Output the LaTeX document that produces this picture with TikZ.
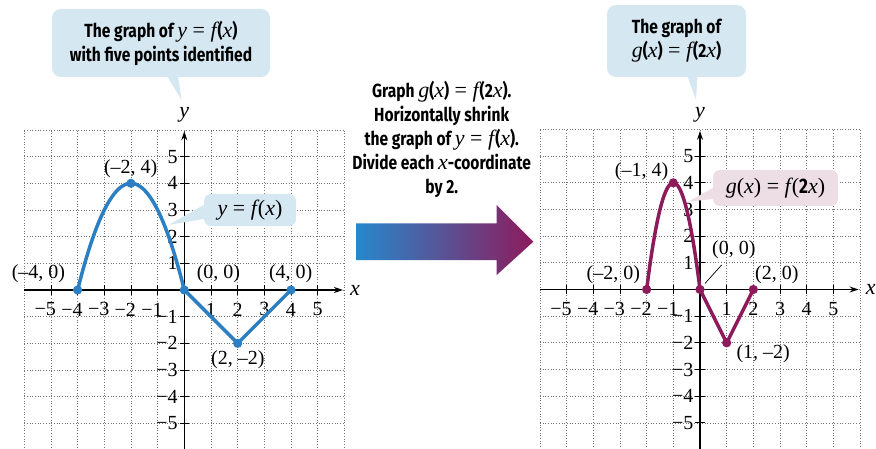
\documentclass[tikz,border=0pt]{standalone}
\usepackage{fontspec}
\setmainfont{Liberation Serif}
\newfontfamily\calfont[FakeStretch=0.82]{Fira Sans}
\usetikzlibrary{arrows.meta}
\definecolor{fblue}{RGB}{43,127,194}
\definecolor{gmag}{RGB}{141,27,92}
\definecolor{boxblue}{RGB}{213,231,241}
\definecolor{boxpink}{RGB}{236,222,228}
\definecolor{arrblue}{RGB}{38,136,204}
\definecolor{arrmag}{RGB}{141,27,92}
\newcommand\vv[1]{{\rmfamily\mdseries\itshape\fontsize{22}{22}\selectfont #1}}
\newcommand\veq{{\rmfamily\mdseries\upshape\fontsize{22}{22}\selectfont\ =\ }}
\newcommand\vp[1]{{\rmfamily\mdseries\upshape\fontsize{22}{22}\selectfont #1}}
\newcommand\planeframe[1]{%
  \foreach \k in {-6,...,6} {
    \draw[gridline] (\k,-6) -- (\k,6);
    \draw[gridline] (-6,\k) -- (6,\k);
  }
  \draw[axisline] (-6,0) -- (5.95,0);
  \draw[axisline] (0,-6) -- (0,5.95);
  \foreach \k in {1,...,5} {
    \draw[ticklinestyle] (\k,-0.18) -- (\k,0.18);
    \draw[ticklinestyle] (-\k,-0.18) -- (-\k,0.18);
    \draw[ticklinestyle] (-0.18,\k) -- (0.18,\k);
    \draw[ticklinestyle] (-0.18,-\k) -- (0.18,-\k);
    \node[ticklbl] (#1xp\k) at (\k,-0.73) {\k};
    \node[ticklbl] (#1xm\k) at (-\k,-0.73) {\llap{−}\k};
    \node[ticklbl, anchor=east] (#1yp\k) at (-0.24,\k) {\k};
    \node[ticklbl, anchor=east] (#1ym\k) at (-0.24,-\k) {−\k};
  }
  \node[axlbl] (#1xl) at (6.4,0) {x};
  \node[axlbl] (#1yl) at (0,6.56) {y};
}
\begin{document}
\begin{tikzpicture}[x=1pt,y=1pt,
  gridline/.style={black!55, dotted, line width=0.7pt},
  axisline/.style={black, line width=1.1pt, -{Stealth[length=9pt,width=6pt]}},
  ticklinestyle/.style={black, line width=0.9pt},
  ticklbl/.style={font=\fontsize{20}{20}\selectfont, inner sep=0pt},
  axlbl/.style={font=\fontsize{22}{22}\selectfont\itshape, inner sep=0pt},
  ptlbl/.style={font=\fontsize{20}{20}\selectfont, inner sep=0pt},
  calltext/.style={font=\calfont\bfseries\fontsize{19}{24}\selectfont, align=center, inner sep=0pt},
  fcurve/.style={fblue, line width=3.5pt, line join=round},
  gcurve/.style={gmag, line width=3.5pt, line join=round},
]
\useasboundingbox (0,0) rectangle (876,448);

% ---------- left plane ----------
\begin{scope}[shift={(184.3pt,158pt)}, x=26.67pt, y=26.67pt]
  \planeframe{L}
  \draw[fcurve] plot[domain=-4:0, samples=60, smooth] (\x,{-\x*\x-4*\x}) -- (2,-2) -- (4,0);
  \foreach \p/\q [count=\i] in {-4/0,-2/4,0/0,2/-2,4/0}
    \fill[fblue] (\p,\q) circle (4.6pt) coordinate (Ld\i);
  \node[ptlbl] (Lp1) at (-5.47,0.63) {(–4, 0)};
  \node[ptlbl] (Lp2) at (-2.01,4.53) {(–2, 4)};
  \node[ptlbl] (Lp3) at (1.28,0.63) {(0, 0)};
  \node[ptlbl] (Lp4) at (3.99,0.63) {(4, 0)};
  \node[ptlbl] (Lp5) at (2.01,-2.62) {(2, –2)};
\end{scope}

% small callout y=f(x)
\node[fill=boxblue, rounded corners=7pt, minimum width=92pt, minimum height=32pt, inner sep=0pt] (cf) at (250,238) {\vv{y}\veq\vv{f}\kern1pt\vp{(}\vv{x}\vp{)}};
\coordinate (cftip) at (168.3,223);
\fill[boxblue] ([yshift=5pt]cf.west) -- (cftip) -- ([yshift=-9pt]cf.west) -- cycle;

% top-left callout
\node[fill=boxblue, rounded corners=9pt, minimum width=218pt, minimum height=68pt, inner sep=0pt] (c1) at (161,405) {};
\node[calltext] (c1t) at (c1.center) {The graph of \vv{y}\veq\vv{f}\kern1pt(\vv{x})\\with five points identified};
\coordinate (c1tip) at (181.7,348);
\fill[boxblue] ([xshift=6pt,yshift=1pt]c1.south) -- (c1tip) -- ([xshift=17pt,yshift=1pt]c1.south) -- cycle;

% ---------- middle ----------
\node[calltext] (mid) at (441.7,309) {Graph \vv{g}(\vv{x})\veq\vv{f}\kern1pt(2\vv{x}).\\Horizontally shrink\\the graph of \vv{y}\veq\vv{f}\kern1pt(\vv{x}).\\Divide each \vv{x}-coordinate\\by 2.};
\shade[left color=arrblue, right color=arrmag, middle color=arrblue!50!arrmag]
  (356,224.7) -- (496.7,224.7) -- (496.7,243) -- (533.3,206.3) -- (496.7,173) -- (496.7,188) -- (356,188) -- cycle;
\coordinate (arrtip) at (533.3,206.3);

% ---------- right plane ----------
\begin{scope}[shift={(700pt,158.5pt)}, x=26.67pt, y=26.67pt]
  \planeframe{R}
  \draw[gcurve] plot[domain=-2:0, samples=60, smooth] (\x,{-4*\x*\x-8*\x}) -- (1,-2) -- (2,0);
  \foreach \p/\q [count=\i] in {-2/0,-1/4,0/0,1/-2,2/0}
    \fill[gmag] (\p,\q) circle (4.6pt) coordinate (Rd\i);
  \node[ptlbl] (Rp1) at (-3.25,0.54) {(–2, 0)};
  \node[ptlbl] (Rp2) at (-2.19,4.42) {(–1, 4)};
  \node[ptlbl] (Rp3) at (1.27,1.48) {(0, 0)};
  \node[ptlbl] (Rp4) at (2.88,0.54) {(2, 0)};
  \node[ptlbl] (Rp5) at (2.37,-2.39) {(1, –2)};
  \coordinate (Rlead1) at (0.19,0.23);
  \coordinate (Rlead2) at (0.81,0.92);
  \draw[black, line width=0.7pt] (Rlead1) -- (Rlead2);
\end{scope}

% small callout g(x)=f(2x)
\node[fill=boxpink, rounded corners=7pt, minimum width=125pt, minimum height=36pt, inner sep=0pt] (cg) at (775.5,260) {\vv{g}\vp{(}\vv{x}\vp{)}\veq\vv{f}\kern1pt\vp{(}{\calfont\bfseries\fontsize{21}{21}\selectfont 2}\vv{x}\vp{)}};
\coordinate (cgtip) at (688.3,246.3);
\fill[boxpink] ([yshift=0pt]cg.west) -- (cgtip) -- ([yshift=-11pt]cg.west) -- cycle;

% top-right callout
\node[fill=boxblue, rounded corners=9pt, minimum width=139pt, minimum height=72pt, inner sep=0pt] (c2) at (676.5,407) {};
\node[calltext] (c2t) at (c2.center) {The graph of\\\vv{g}(\vv{x})\veq\vv{f}\kern1pt(2\vv{x})};
\coordinate (c2tip) at (696,348);
\fill[boxblue] ([xshift=11pt,yshift=1pt]c2.south) -- (c2tip) -- ([xshift=21pt,yshift=1pt]c2.south) -- cycle;
\end{tikzpicture}
\end{document}
